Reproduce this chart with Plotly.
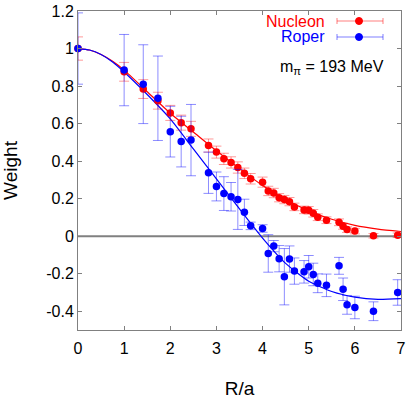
import plotly.graph_objects as go

# lattice separations R/a
r = [0, 1, 1.414, 1.732, 2, 2.236, 2.449, 2.828, 3, 3.162, 3.317, 3.464, 3.606,
     3.742, 4, 4.123, 4.243, 4.359, 4.472, 4.583, 4.690, 4.899, 5, 5.099, 5.196,
     5.385, 5.657, 5.745, 5.831, 6, 6.403, 6.928]

nucleon = [1.0, 0.876, 0.784, 0.722, 0.657, 0.605, 0.572, 0.483, 0.448, 0.412, 0.393,
           0.366, 0.335, 0.306, 0.288, 0.241, 0.230, 0.205, 0.195, 0.184, 0.156, 0.140,
           0.138, 0.122, 0.101, 0.085, 0.074, 0.053, 0.035, 0.027, 0.002, 0.005]
nucleon_err = [0.062, 0.05, 0.05, 0.045, 0.04, 0.04, 0.04, 0.035, 0.032, 0.03, 0.03,
               0.03, 0.028, 0.028, 0.027, 0.025, 0.025, 0.022, 0.022, 0.022, 0.02, 0.02,
               0.02, 0.02, 0.018, 0.018, 0.018, 0.016, 0.015, 0.015, 0.012, 0.012]

roper = [1.0, 0.885, 0.81, 0.735, 0.557, 0.504, 0.512, 0.338, 0.265, 0.227, 0.21,
         0.196, 0.127, 0.055, 0.041, -0.092, -0.053, -0.12, -0.216, -0.122, -0.186,
         -0.19, -0.163, -0.204, -0.251, -0.262, -0.158, -0.283, -0.366, -0.38, -0.40, -0.30]
roper_err = [0.19, 0.19, 0.21, 0.225, 0.135, 0.135, 0.19, 0.11, 0.077, 0.09, 0.076,
             0.16, 0.07, 0.02, 0.02, 0.1, 0.03, 0.07, 0.15, 0.07, 0.07, 0.06, 0.06,
             0.06, 0.05, 0.06, 0.045, 0.06, 0.05, 0.06, 0.05, 0.068]

# fitted curves
fit_x = [0, 0.25, 0.5, 0.75, 1, 1.5, 2, 2.5, 3, 3.5, 4, 4.5, 5, 5.5, 6, 6.5, 7]
nucleon_fit = [1.0, 0.992, 0.968, 0.932, 0.885, 0.77, 0.655, 0.555, 0.455, 0.36, 0.27,
               0.195, 0.135, 0.09, 0.058, 0.038, 0.025]
roper_fit = [1.0, 0.992, 0.968, 0.928, 0.875, 0.755, 0.625, 0.465, 0.305, 0.145, -0.01,
             -0.145, -0.24, -0.295, -0.325, -0.337, -0.333]

x_ticks = [0, 1, 2, 3, 4, 5, 6, 7]
y_ticks = [-0.4, -0.2, 0, 0.2, 0.4, 0.6, 0.8, 1, 1.2]
y_labels = ["-0.4", "-0.2", "0", "0.2", "0.4", "0.6", "0.8", "1", "1.2"]

RED = "#ff0000"
BLUE = "#0000ff"
FONT = "Liberation Sans, Arial, sans-serif"

fig = go.Figure()
fig.add_trace(go.Scatter(x=fit_x, y=nucleon_fit, mode="lines", line_shape="spline",
                         line=dict(color=RED, width=1.2, smoothing=0.6), showlegend=False))
fig.add_trace(go.Scatter(x=fit_x, y=roper_fit, mode="lines", line_shape="spline",
                         line=dict(color=BLUE, width=1.2, smoothing=0.6), showlegend=False))
fig.add_trace(go.Scatter(x=r, y=nucleon, mode="markers", cliponaxis=False,
                         marker=dict(color=RED, size=7.5),
                         error_y=dict(type="data", array=nucleon_err, color="rgba(255,0,0,0.4)",
                                      thickness=1, width=5),
                         showlegend=False))
fig.add_trace(go.Scatter(x=r, y=roper, mode="markers", cliponaxis=False,
                         marker=dict(color=BLUE, size=7.5),
                         error_y=dict(type="data", array=roper_err, color="rgba(0,0,255,0.45)",
                                      thickness=1, width=5),
                         showlegend=False))

# plot-area edges in pixels
PL, PR, PT, PB = 78, 401, 11, 330
W, H = 415, 399


def px(v):
    return (v - PL) / (PR - PL)


def py(v):
    return (PB - v) / (PB - PT)


# hand-made key with the sample on the right of the text
shapes = []
for col, yy, lc in [(RED, 21, "rgba(255,0,0,0.5)"), (BLUE, 37, "rgba(0,0,255,0.5)")]:
    shapes.append(dict(type="line", xref="paper", yref="paper", x0=px(337), x1=px(383),
                       y0=py(yy), y1=py(yy), line=dict(color=lc, width=1)))
    for xc in (337, 383):
        shapes.append(dict(type="line", xref="paper", yref="paper", x0=px(xc), x1=px(xc),
                           y0=py(yy - 3), y1=py(yy + 3), line=dict(color=lc, width=1)))
    shapes.append(dict(type="circle", xref="paper", yref="paper", x0=px(355.5), x1=px(362.5),
                       y0=py(yy + 3.5), y1=py(yy - 3.5), fillcolor=col, line=dict(color=col, width=1)))
shapes.append(dict(type="line", xref="x", yref="y", x0=0, x1=7, y0=0, y1=0,
                   line=dict(color="#808080", width=2), layer="below"))

annotations = [
    dict(text="Nucleon", x=px(327), y=py(21), xref="paper", yref="paper", xanchor="right",
         yanchor="middle", showarrow=False, font=dict(color=RED, size=16, family=FONT)),
    dict(text="Roper", x=px(327), y=py(37), xref="paper", yref="paper", xanchor="right",
         yanchor="middle", showarrow=False, font=dict(color=BLUE, size=16, family=FONT)),
    dict(text="m<sub>π</sub> = 193 MeV", x=px(278), y=py(67), xref="paper", yref="paper",
         xanchor="left", yanchor="middle", showarrow=False,
         font=dict(color="black", size=16, family=FONT)),
]

fig.update_layout(
    width=W, height=H,
    margin=dict(l=PL, r=W - PR, t=PT, b=H - PB),
    paper_bgcolor="white", plot_bgcolor="white",
    font=dict(family=FONT, size=16, color="black"),
    shapes=shapes, annotations=annotations,
)
fig.update_xaxes(range=[0, 7], tickvals=x_ticks, ticks="inside", ticklen=4, tickcolor="#808080",
                 showline=True, linecolor="#808080", linewidth=1, mirror="ticks",
                 showgrid=False, zeroline=False, automargin=False, ticklabelstandoff=4,
                 ticklabeloverflow="allow",
                 title=dict(text="R/a", standoff=37))
fig.update_yaxes(range=[-0.5, 1.2], tickvals=y_ticks, ticktext=y_labels, ticks="inside",
                 ticklen=4, tickcolor="#808080",
                 showline=True, linecolor="#808080", linewidth=1, mirror="ticks",
                 showgrid=False, zeroline=False, automargin=False,
                 ticklabeloverflow="allow",
                 title=dict(text="Weight", standoff=40))

# drop the page's default body margin so the figure sits at the window's corner
fig.write_html("out.html", config={"displayModeBar": False},
               post_script="document.body.style.margin = '0';")
